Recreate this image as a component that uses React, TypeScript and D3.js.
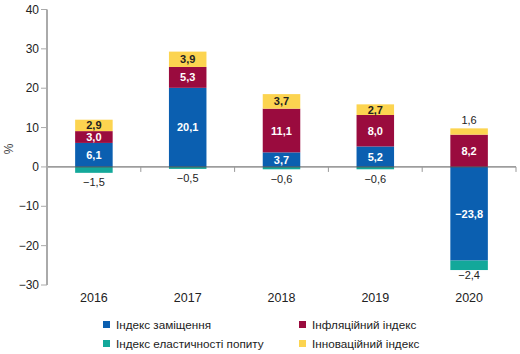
import React from "react";
import * as d3 from "d3";

const years = ["2016", "2017", "2018", "2019", "2020"];
const replacement = [6.1, 20.1, 3.7, 5.2, -23.8];
const inflation = [3.0, 5.3, 11.1, 8.0, 8.2];
const elasticity = [-1.5, -0.5, -0.6, -0.6, -2.4];
const innovation = [2.9, 3.9, 3.7, 2.7, 1.6];
const yTicks = [-30, -20, -10, 0, 10, 20, 30, 40];

const seriesNames = [
  "Індекс заміщення",
  "Індекс еластичності попиту",
  "Інфляційний індекс",
  "Інноваційний індекс",
];
const seriesKeys = ["repl", "elast", "infl", "innov"];
const colors: Record<string, string> = {
  repl: "#0b5fb0",
  elast: "#13a89a",
  infl: "#9a0b3e",
  innov: "#fcd450",
};
const textColors: Record<string, string> = {
  repl: "#fff",
  elast: "#222",
  infl: "#fff",
  innov: "#222",
};

const W = 520;
const H = 354;
const font = "'Liberation Sans', Arial, sans-serif";

const fmt = (v: number) => (v < 0 ? "\u2212" : "") + Math.abs(v).toFixed(1).replace(".", ",");

export default function App() {
  const rows = years.map((y, i) => ({
    year: y,
    repl: replacement[i],
    elast: elasticity[i],
    infl: inflation[i],
    innov: innovation[i],
  }));

  const stack = d3
    .stack<any>()
    .keys(seriesKeys)
    .offset(d3.stackOffsetDiverging);
  const stacked = stack(rows);

  const x = d3.scaleBand().domain(years).range([47, 516]).paddingInner(0.6).paddingOuter(0.3);
  const xb = d3.scaleBand().domain(years).range([47, 516]);
  const y = d3.scaleLinear().domain([-30, 40]).range([285, 9.5]);

  const legend = [
    { key: "repl", x: 103, y: 329 },
    { key: "infl", x: 299, y: 329 },
    { key: "elast", x: 103, y: 348 },
    { key: "innov", x: 299, y: 348 },
  ];

  return (
    <svg
      width={W}
      height={H}
      style={{ position: "absolute", left: 0, top: 0, fontFamily: font }}
    >
      <rect width={W} height={H} fill="#fff" />
      {/* bars */}
      {stacked.map((s) => (
        <g key={s.key}>
          {s.map((d, i) => {
            const v = (rows[i] as any)[s.key] as number;
            const y0 = y(Math.max(d[0], d[1]));
            const y1 = y(Math.min(d[0], d[1]));
            const bx = x(rows[i].year)!;
            const bw = x.bandwidth();
            const cx = bx + bw / 2;
            let ty = (y0 + y1) / 2 + 4;
            let tc = textColors[s.key];
            let fw = s.key === "repl" || s.key === "infl" ? 700 : s.key === "innov" ? 600 : 400;
            if (s.key === "elast") {
              ty = y1 + (Math.min(d[0], d[1]) < -10 ? 9 : 13.5);
              tc = "#222";
            } else if (s.key === "innov" && Math.abs(v) < 2) {
              ty = y0 - 4;
              fw = 400;
            }
            return (
              <g key={i}>
                <rect x={bx} y={y0} width={bw} height={y1 - y0} fill={colors[s.key]} />
                <text
                  x={cx}
                  y={ty}
                  textAnchor="middle"
                  fontSize={11}
                  fontWeight={fw}
                  fill={tc}
                >
                  {fmt(v)}
                </text>
              </g>
            );
          })}
        </g>
      ))}
      {/* zero line */}
      <line x1={47} x2={516} y1={y(0)} y2={y(0)} stroke="#555" strokeWidth={1} />
      {years.map((yr) => (
        <line
          key={yr}
          x1={xb(yr)! + xb.bandwidth()}
          x2={xb(yr)! + xb.bandwidth()}
          y1={y(0)}
          y2={y(0) + 5}
          stroke="#999"
        />
      ))}
      {/* y axis */}
      <line x1={47} x2={47} y1={y(40)} y2={y(-30)} stroke="#aaa" strokeWidth={2} />
      {yTicks.map((t) => (
        <g key={t}>
          <line x1={41} x2={47} y1={y(t)} y2={y(t)} stroke="#aaa" />
          <text x={39} y={y(t) + 4} textAnchor="end" fontSize={12} fill="#222">
            {t < 0 ? "\u2212" + Math.abs(t) : t}
          </text>
        </g>
      ))}
      <text
        transform={`translate(13,${y(0) - 18}) rotate(-90)`}
        textAnchor="middle"
        fontSize={12}
        fill="#444"
      >
        %
      </text>
      {/* x labels */}
      {years.map((yr) => (
        <text
          key={yr}
          x={xb(yr)! + xb.bandwidth() / 2}
          y={302}
          textAnchor="middle"
          fontSize={12.5}
          fill="#222"
        >
          {yr}
        </text>
      ))}
      {/* legend */}
      {legend.map((l) => (
        <g key={l.key}>
          <rect x={l.x} y={l.y - 8} width={7} height={7} fill={colors[l.key]} />
          <text x={l.x + 13} y={l.y} fontSize={11.7} fill="#222">
            {seriesNames[seriesKeys.indexOf(l.key)]}
          </text>
        </g>
      ))}
    </svg>
  );
}
